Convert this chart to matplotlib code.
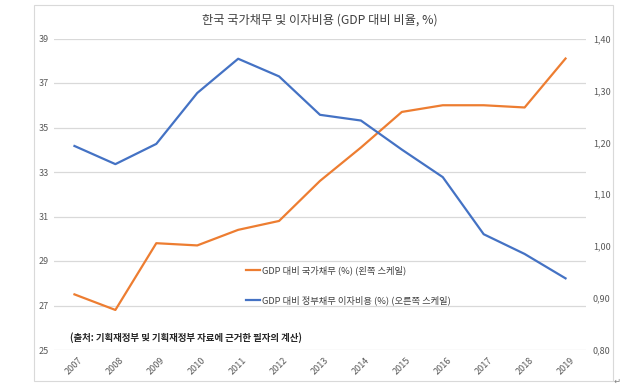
import matplotlib
matplotlib.use("Agg")
import matplotlib.pyplot as plt
from matplotlib.patches import Rectangle
from matplotlib.ticker import FuncFormatter

plt.rcParams["font.family"] = ["Noto Sans CJK KR", "DejaVu Sans"]

years = [2007, 2008, 2009, 2010, 2011, 2012, 2013, 2014, 2015, 2016, 2017, 2018, 2019]
debt = [27.5, 26.8, 29.8, 29.7, 30.4, 30.8, 32.6, 34.1, 35.7, 36.0, 36.0, 35.9, 38.1]
interest = [1.193, 1.158, 1.197, 1.295, 1.361, 1.327, 1.253, 1.242, 1.186, 1.133, 1.023, 0.985, 0.938]

title = "한국 국가채무 및 이자비용 (GDP 대비 비율, %)"
label_debt = "GDP 대비 국가채무 (%) (왼쪽 스케일)"
label_int = "GDP 대비 정부채무 이자비용 (%) (오른쪽 스케일)"
source = "(출처: 기획재정부 및 기획재정부 자료에 근거한 필자의 계산)"

ORANGE = "#ED7D31"
BLUE = "#4472C4"
GRID = "#D9D9D9"
TXT = "#595959"

W, H = 640, 388
fig = plt.figure(figsize=(W / 100, H / 100), dpi=100)
fig.patches.append(Rectangle((34 / W, 1 - 381 / H), (613 - 34) / W, (381 - 5) / H,
                             transform=fig.transFigure, fill=False, ec=GRID, lw=0.8))

ax = fig.add_axes([54 / W, 1 - 350 / H, (586 - 54) / W, (350 - 38.5) / H])
ax2 = ax.twinx()

ax.plot(years, debt, color=ORANGE, lw=1.6, label=label_debt)
ax2.plot(years, interest, color=BLUE, lw=1.6, label=label_int)

ax.set_xlim(2006.5, 2019.5)
ax.set_ylim(25, 39)
ax2.set_ylim(0.80, 1.40)
ax.set_yticks(range(25, 40, 2))
ax2.set_yticks([0.8, 0.9, 1.0, 1.1, 1.2, 1.3, 1.4])
ax2.yaxis.set_major_formatter(FuncFormatter(lambda v, p: f"{v:.2f}".replace(".", ",")))
ax.set_xticks(years)
ax.set_xticklabels([str(y) for y in years], rotation=45, ha="center")

ax.grid(axis="y", color=GRID, lw=0.9)
ax.set_axisbelow(True)
for a in (ax, ax2):
    for s in a.spines.values():
        s.set_visible(False)
    a.tick_params(length=0, labelsize=6.5, colors=TXT)
ax.tick_params(axis="y", pad=4)
ax2.tick_params(axis="y", pad=5)
ax.tick_params(axis="x", pad=4)

fig.text(320 / W, 1 - 20 / H, title, ha="center", va="center", fontsize=8.8, color="#404040")

h1, l1 = ax.get_legend_handles_labels()
h2, l2 = ax2.get_legend_handles_labels()
fig.legend(h1 + h2, l1 + l2, loc="upper left", bbox_to_anchor=(238 / W, 1 - 257 / H),
           frameon=False, fontsize=6.7, handlelength=1.5, handletextpad=0.2,
           labelspacing=2.2, labelcolor="#404040")

fig.text(70 / W, 1 - 338 / H, source, ha="left", va="center", fontsize=6.8,
         fontweight="bold", color="#262626")
fig.text(617 / W, 1 - 381 / H, "↵", ha="center", va="center", fontsize=6, color="#808080",
         family=["DejaVu Sans"])

fig.savefig("out.png", dpi=100)
